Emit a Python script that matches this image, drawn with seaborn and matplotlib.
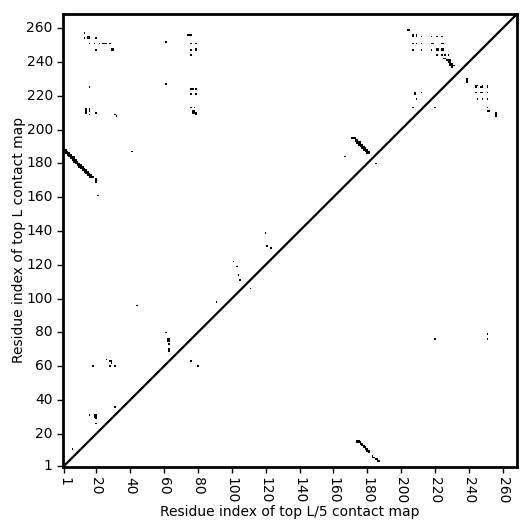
import matplotlib
matplotlib.use("Agg")
import matplotlib.pyplot as plt
from matplotlib.colors import ListedColormap
import numpy as np
import seaborn as sns

L = 268
tick_labels = [1, 20, 40, 60, 80, 100, 120, 140, 160, 180, 200, 220, 240, 260]

# (x, y) residue pairs, 1-based
strand_band_a = [
    (1, 187), (1, 188), (2, 186), (2, 187), (2, 188), (3, 185), (3, 186), (3, 187),
    (4, 184), (4, 185), (4, 186), (5, 183), (5, 184), (5, 185), (6, 182), (6, 183),
    (6, 184), (7, 181), (7, 182), (7, 183), (7, 184), (8, 180), (8, 181), (8, 182),
    (9, 179), (9, 180), (9, 181), (10, 178), (10, 179), (10, 180), (11, 177), (11, 178),
    (11, 179), (12, 176), (12, 177), (12, 178), (13, 175), (13, 176), (13, 177),
    (14, 174), (14, 175), (14, 176), (15, 173), (15, 174), (15, 175), (16, 172),
    (16, 173), (16, 174), (17, 172), (17, 173), (18, 172), (20, 169), (20, 170), (20, 171),
]
strand_band_b = [
    (171, 195), (172, 195), (173, 193), (173, 194), (173, 195), (174, 192), (174, 193),
    (174, 194), (175, 191), (175, 192), (175, 193), (176, 190), (176, 191), (176, 192),
    (176, 193), (177, 189), (177, 190), (177, 191), (178, 188), (178, 189), (178, 190),
    (179, 187), (179, 188), (179, 189), (180, 186), (180, 187), (180, 188), (181, 186), (181, 187),
]
strand_band_c = [
    (174, 16), (174, 15), (175, 15), (175, 16), (176, 14), (176, 15), (177, 13), (177, 14),
    (178, 12), (178, 13), (179, 11), (179, 12), (180, 10), (180, 11), (181, 9), (181, 10),
    (183, 7), (183, 6), (184, 6), (185, 5), (186, 4), (186, 5), (187, 4),
]
cluster_top_left = [
    (13, 257), (13, 254), (15, 254), (16, 254), (15, 255), (16, 255), (20, 254),
    (16, 251), (19, 251), (22, 251), (24, 251), (25, 251), (26, 251), (28, 251),
    (20, 247), (29, 247), (29, 248), (30, 247), (30, 248), (61, 252),
    (16, 225), (61, 227),
    (14, 210), (14, 211), (14, 212), (16, 211), (16, 212), (16, 209), (20, 210),
    (31, 209), (32, 208),
]
cluster_mid_top = [
    (74, 256), (75, 256), (76, 256), (76, 251), (79, 251), (76, 247), (79, 247),
    (79, 248), (76, 244), (76, 224), (77, 224), (79, 224), (76, 221), (79, 221),
    (76, 213), (78, 213), (77, 211), (78, 211), (77, 210), (78, 210), (79, 210), (79, 209),
]
cluster_top_right = [
    (204, 259), (205, 259),
    (207, 255), (207, 256), (209, 255), (209, 256), (212, 255), (218, 255), (221, 255), (224, 255),
    (207, 251), (209, 251), (212, 251), (218, 251), (219, 251), (224, 251), (225, 251),
    (207, 247), (212, 247), (218, 247), (221, 247), (221, 248), (222, 247), (222, 248),
    (224, 247), (224, 248), (225, 247), (225, 248),
    (221, 244), (224, 244), (226, 244), (228, 244),
    (225, 242), (226, 242), (227, 241), (228, 241), (229, 241), (228, 240), (229, 240),
    (229, 239), (230, 239), (229, 238), (230, 238), (231, 238), (230, 237),
    (208, 221), (208, 222), (212, 222), (209, 218), (207, 213),
]
cluster_right = [
    (239, 228), (239, 229), (239, 230),
    (244, 225), (244, 226), (245, 226), (247, 225), (248, 225), (248, 226), (251, 225), (251, 226),
    (244, 222), (247, 222), (248, 222), (251, 222),
    (245, 218), (248, 218), (251, 218),
    (251, 213), (251, 211), (252, 211), (256, 208), (256, 209), (256, 210),
    (220, 213), (220, 76), (251, 79), (251, 76),
]
scattered = [
    (41, 187), (21, 161), (167, 184), (185, 180),
    (6, 11), (16, 31), (19, 31), (20, 31), (19, 30), (20, 30), (20, 29), (20, 26), (31, 36),
    (18, 60), (28, 60), (31, 60), (26, 64), (28, 63), (29, 63), (29, 62),
    (44, 96), (91, 98), (61, 80), (62, 76), (63, 76), (62, 75), (63, 75), (63, 73),
    (63, 69), (63, 70), (76, 63), (80, 60),
    (101, 122), (103, 119), (104, 114), (105, 111), (111, 106), (120, 139), (121, 131), (123, 130),
]

contacts = np.zeros((L, L))
for group in [strand_band_a, strand_band_b, strand_band_c, cluster_top_left,
              cluster_mid_top, cluster_top_right, cluster_right, scattered]:
    for x, y in group:
        contacts[y - 1, x - 1] = 1

fig = plt.figure(figsize=(5.31, 5.31), dpi=100)
ax = fig.add_axes([0.119, 0.121, 0.855, 0.853])

sns.heatmap(contacts, cmap=ListedColormap(["white", "black"]), cbar=False,
            vmin=0, vmax=1, ax=ax)
ax.collections[0].set_antialiased(False)
ax.invert_yaxis()
ax.plot([0, L], [0, L], color="black", lw=1.6)

pos = [t - 0.5 for t in tick_labels]
ax.set_xticks(pos)
ax.set_xticklabels(tick_labels, rotation=270)
ax.set_yticks(pos)
ax.set_yticklabels(tick_labels, rotation=0)
ax.tick_params(length=4, width=1, labelsize=10, color="black")

for sp in ax.spines.values():
    sp.set_visible(True)
    sp.set_linewidth(2)
    sp.set_color("black")

ax.set_xlabel("Residue index of top L/5 contact map", fontsize=10, labelpad=1)
ax.set_ylabel("Residue index of top L contact map", fontsize=10, labelpad=0)

fig.savefig("out.png", dpi=100)
